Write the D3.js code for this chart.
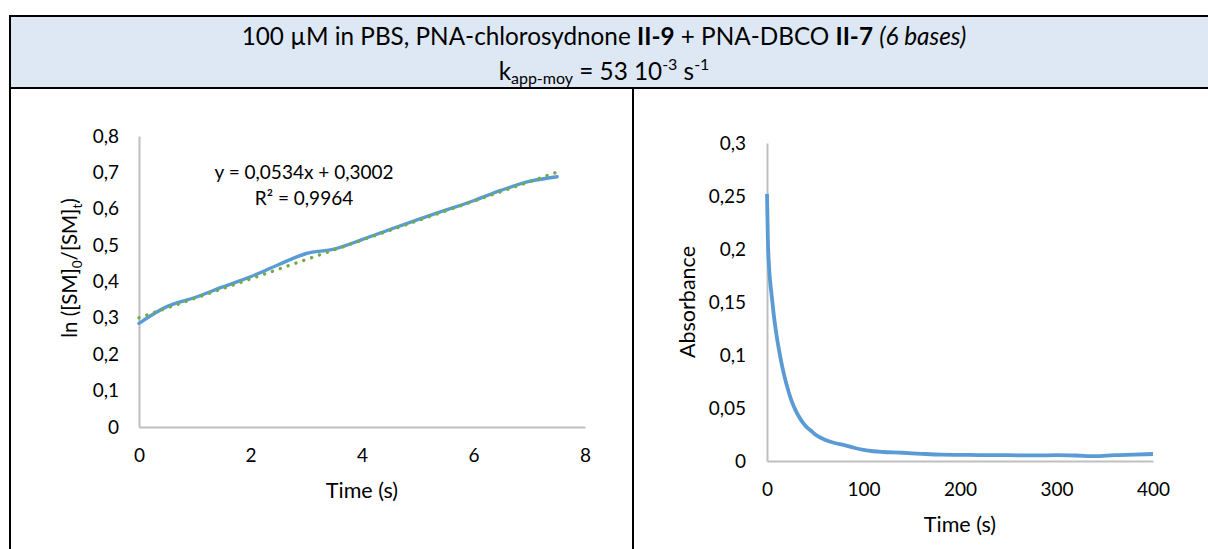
<!DOCTYPE html>
<html><head><meta charset="utf-8">
<script src="https://cdn.jsdelivr.net/npm/d3@7"></script>
<style>
body{margin:0;background:#fff}
svg{display:block;font-family:Lato,"Open Sans",sans-serif}
</style>
</head><body>
<svg id="c" width="1208" height="549"></svg>
<script>
// ---------- data ----------
const lnTime   = [0, 0.5, 1, 1.5, 2, 2.5, 3, 3.5, 4, 4.5, 5, 5.5, 6, 6.5, 7, 7.5];
const lnValues = [0.285, 0.331, 0.356, 0.385, 0.413, 0.446, 0.477, 0.489, 0.515, 0.543, 0.570, 0.596, 0.622, 0.651, 0.675, 0.688];
const fitSlope = 0.0534;
const fitIntercept = 0.3002;
const fitRange = [0, 7.5];
const fitEquation = "y = 0,0534x + 0,3002";
const fitR2 = "R² = 0,9964";

const absTime   = [0, 1, 2, 3, 5, 7, 10, 13, 16, 20, 25, 30, 35, 40, 45, 50, 60, 70, 80, 90, 100, 110, 120, 140, 160, 180, 200, 220, 240, 260, 280, 300, 320, 340, 360, 380, 400];
const absValues = [0.252, 0.205, 0.185, 0.172, 0.155, 0.138, 0.118, 0.102, 0.088, 0.073, 0.058, 0.047, 0.039, 0.033, 0.029, 0.025, 0.020, 0.017, 0.015, 0.0125, 0.0105, 0.0092, 0.0085, 0.0078, 0.0068, 0.0060, 0.0058, 0.0056, 0.0055, 0.0054, 0.0053, 0.0055, 0.0052, 0.0046, 0.0055, 0.0060, 0.0066];

const leftXTicks  = [0, 2, 4, 6, 8];
const leftYTicks  = [0, 0.1, 0.2, 0.3, 0.4, 0.5, 0.6, 0.7, 0.8];
const rightXTicks = [0, 100, 200, 300, 400];
const rightYTicks = [0, 0.05, 0.1, 0.15, 0.2, 0.25, 0.3];

// ---------- setup ----------
const svg = d3.select("#c");
const fr = d3.formatLocale({decimal: ",", thousands: " ", grouping: [3], currency: ["", " €"]});
const fmt = fr.format("~g");
const BLUE = "#5b9bd5", GREEN = "#70ad47", AXIS = "#bfbfbf";

// header cell
svg.append("rect").attr("x", 10).attr("y", 16).attr("width", 1200).attr("height", 72).attr("fill", "#dde8f4");
const border = (x1, y1, x2, y2) => svg.append("line").attr("x1", x1).attr("y1", y1).attr("x2", x2).attr("y2", y2)
  .attr("stroke", "#000").attr("stroke-width", 2);
border(9, 16, 1208, 16);
border(9, 88, 1208, 88);
border(10, 15, 10, 549);
border(633, 88, 633, 549);

// header texts
const HF = 24.3, HS = 16;
const h1 = svg.append("text").attr("x", 604).attr("y", 45).attr("text-anchor", "middle").attr("font-size", HF).attr("fill", "#000");
h1.append("tspan").text("100 µM in PBS, PNA-chlorosydnone ");
h1.append("tspan").attr("font-weight", "bold").text("II-9");
h1.append("tspan").text(" + PNA-DBCO ");
h1.append("tspan").attr("font-weight", "bold").text("II-7");
h1.append("tspan").text(" ");
h1.append("tspan").attr("font-style", "italic").text("(6 bases)");

const h2 = svg.append("text").attr("x", 604).attr("y", 80).attr("text-anchor", "middle").attr("font-size", HF).attr("fill", "#000");
h2.append("tspan").text("k");
h2.append("tspan").attr("font-size", HS).attr("dy", 4).text("app-moy");
h2.append("tspan").attr("dy", -4).text(" = 53 10");
h2.append("tspan").attr("font-size", HS).attr("dy", -10).text("-3");
h2.append("tspan").attr("dy", 10).text(" s");
h2.append("tspan").attr("font-size", HS).attr("dy", -10).text("-1");

function styleAxis(g) {
  g.select(".domain").attr("stroke", AXIS).attr("stroke-width", 2);
  g.selectAll(".tick line").remove();
  g.selectAll(".tick text").attr("fill", "#000").attr("font-size", 19).attr("font-family", "Lato, sans-serif");
}

// ---------- left chart ----------
const xL = d3.scaleLinear().domain([0, 8]).range([139, 585]);
const yL = d3.scaleLinear().domain([0, 0.8]).range([427, 136]);

svg.append("g").attr("transform", `translate(0,${yL(0)})`)
  .call(d3.axisBottom(xL).tickValues(leftXTicks).tickSize(0).tickSizeOuter(0).tickPadding(22).tickFormat(fmt))
  .call(styleAxis);
svg.append("g").attr("transform", `translate(${xL(0)},0)`)
  .call(d3.axisLeft(yL).tickValues(leftYTicks).tickSize(0).tickSizeOuter(0).tickPadding(20).tickFormat(fmt))
  .call(styleAxis);

svg.append("path").datum(lnTime.map((t, i) => [t, lnValues[i]]))
  .attr("fill", "none").attr("stroke", BLUE).attr("stroke-width", 3.4).attr("stroke-linecap", "round")
  .attr("d", d3.line().x(d => xL(d[0])).y(d => yL(d[1])).curve(d3.curveCatmullRom.alpha(0.5)));

svg.append("path").datum(fitRange.map(t => [t, fitSlope * t + fitIntercept]))
  .attr("fill", "none").attr("stroke", GREEN).attr("stroke-width", 3.4).attr("stroke-linecap", "round")
  .attr("stroke-dasharray", "0.01 8.3")
  .attr("d", d3.line().x(d => xL(d[0])).y(d => yL(d[1])));

svg.append("text").attr("x", 304).attr("y", 179).attr("text-anchor", "middle").attr("font-size", 19).text(fitEquation);
svg.append("text").attr("x", 304).attr("y", 205).attr("text-anchor", "middle").attr("font-size", 19).text(fitR2);

svg.append("text").attr("x", (xL.range()[0] + xL.range()[1]) / 2).attr("y", 498).attr("text-anchor", "middle")
  .attr("font-size", 21.5).text("Time (s)");

const yt = svg.append("text").attr("transform", "translate(70,268) rotate(-90)").attr("text-anchor", "middle")
  .attr("dy", "0.35em").attr("font-size", 20.5);
yt.append("tspan").text("ln ([SM]");
yt.append("tspan").attr("font-size", 13.5).attr("dy", 5).text("0");
yt.append("tspan").attr("dy", -5).text("/[SM]");
yt.append("tspan").attr("font-size", 13.5).attr("dy", 5).text("t");
yt.append("tspan").attr("dy", -5).text(")");

// ---------- right chart ----------
const xR = d3.scaleLinear().domain([0, 400]).range([767, 1153]);
const yR = d3.scaleLinear().domain([0, 0.3]).range([461, 143]);

svg.append("g").attr("transform", `translate(0,${yR(0)})`)
  .call(d3.axisBottom(xR).tickValues(rightXTicks).tickSize(0).tickSizeOuter(0).tickPadding(22).tickFormat(fmt))
  .call(styleAxis);
svg.append("g").attr("transform", `translate(${xR(0)},0)`)
  .call(d3.axisLeft(yR).tickValues(rightYTicks).tickSize(0).tickSizeOuter(0).tickPadding(21).tickFormat(fmt))
  .call(styleAxis);

svg.append("path").datum(absTime.map((t, i) => [t, absValues[i]]))
  .attr("fill", "none").attr("stroke", BLUE).attr("stroke-width", 3.8).attr("stroke-linejoin", "round")
  .attr("d", d3.line().x(d => xR(d[0])).y(d => yR(d[1])).curve(d3.curveMonotoneX));

svg.append("text").attr("x", (xR.range()[0] + xR.range()[1]) / 2).attr("y", 532).attr("text-anchor", "middle")
  .attr("font-size", 21.5).text("Time (s)");
svg.append("text").attr("transform", "translate(687,302) rotate(-90)").attr("text-anchor", "middle")
  .attr("dy", "0.35em").attr("font-size", 21.5).text("Absorbance");
</script>
</body></html>
